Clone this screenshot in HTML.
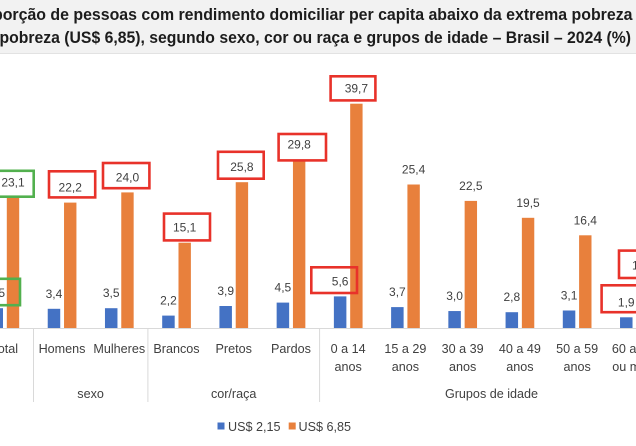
<!DOCTYPE html>
<html><head><meta charset="utf-8"><style>
html,body{margin:0;padding:0;background:#fff;}
svg{display:block;}
text{font-family:"Liberation Sans",Arial,sans-serif;}
</style></head><body>
<svg width="636" height="446" viewBox="0 0 636 446" xmlns="http://www.w3.org/2000/svg">
<rect x="0" y="0" width="636" height="446" fill="#fff"/>
<!-- title -->
<rect x="0" y="0" width="636" height="53" fill="#f2f2f2"/>
<line x1="0" y1="53.5" x2="636" y2="53.5" stroke="#e2e2e2" stroke-width="1"/>
<g font-weight="bold" font-size="16.5" fill="#1c1c1c" style="white-space:pre">
<text x="-33.5" y="20" textLength="666" lengthAdjust="spacingAndGlyphs">Proporção de pessoas com rendimento domiciliar per capita abaixo da extrema pobreza</text>
<text x="-0.5" y="43" textLength="631.5" lengthAdjust="spacingAndGlyphs">pobreza (US$ 6,85),  segundo sexo, cor ou raça e grupos de idade – Brasil – 2024 (%)</text>
</g>

<!-- axis -->
<line x1="0" y1="328.5" x2="636" y2="328.5" stroke="#d9d9d9" stroke-width="1"/>
<g stroke="#d9d9d9" stroke-width="1">
<line x1="33.5" y1="328" x2="33.5" y2="402"/>
<line x1="147.9" y1="328" x2="147.9" y2="402"/>
<line x1="319.6" y1="328" x2="319.6" y2="402"/>
</g>

<!-- blue bars -->
<g fill="#4472C4">
<rect x="-9.5" y="308.2" width="12.5" height="19.8"/>
<rect x="47.73" y="308.8" width="12.5" height="19.2"/>
<rect x="104.96" y="308.2" width="12.5" height="19.8"/>
<rect x="162.19" y="315.6" width="12.5" height="12.4"/>
<rect x="219.42" y="306.0" width="12.5" height="22.0"/>
<rect x="276.65" y="302.6" width="12.5" height="25.4"/>
<rect x="333.88" y="296.4" width="12.5" height="31.6"/>
<rect x="391.11" y="307.1" width="12.5" height="20.9"/>
<rect x="448.34" y="311.05" width="12.5" height="16.95"/>
<rect x="505.57" y="312.2" width="12.5" height="15.8"/>
<rect x="562.8" y="310.5" width="12.5" height="17.5"/>
<rect x="620.03" y="317.3" width="12.5" height="10.7"/>
</g>
<!-- orange bars -->
<g fill="#E8803C">
<rect x="6.8" y="197.5" width="12.4" height="130.5"/>
<rect x="64.03" y="202.6" width="12.4" height="125.4"/>
<rect x="121.26" y="192.4" width="12.4" height="135.6"/>
<rect x="178.49" y="242.7" width="12.4" height="85.3"/>
<rect x="235.72" y="182.2" width="12.4" height="145.8"/>
<rect x="292.95" y="159.6" width="12.4" height="168.4"/>
<rect x="350.18" y="103.7" width="12.4" height="224.3"/>
<rect x="407.41" y="184.5" width="12.4" height="143.5"/>
<rect x="464.64" y="200.9" width="12.4" height="127.1"/>
<rect x="521.87" y="217.8" width="12.4" height="110.2"/>
<rect x="579.1" y="235.3" width="12.4" height="92.7"/>
</g>

<!-- data labels -->
<g font-size="12" fill="#404040" text-anchor="middle">
<text x="-3.25" y="297.2">3,5</text>
<text x="53.98" y="297.8">3,4</text>
<text x="111.21" y="297.2">3,5</text>
<text x="168.44" y="304.6">2,2</text>
<text x="225.67" y="295">3,9</text>
<text x="282.9" y="291.6">4,5</text>
<text x="340.13" y="285.4">5,6</text>
<text x="397.36" y="296.1">3,7</text>
<text x="454.59" y="300">3,0</text>
<text x="511.82" y="301.2">2,8</text>
<text x="569.05" y="299.5">3,1</text>
<text x="626.28" y="306.3">1,9</text>

<text x="13" y="186.5">23,1</text>
<text x="70.23" y="191.6">22,2</text>
<text x="127.46" y="181.4">24,0</text>
<text x="184.69" y="231.7">15,1</text>
<text x="241.92" y="171.2">25,8</text>
<text x="299.15" y="148.6">29,8</text>
<text x="356.38" y="92.7">39,7</text>
<text x="413.61" y="173.5">25,4</text>
<text x="470.84" y="189.9">22,5</text>
<text x="528.07" y="206.8">19,5</text>
<text x="585.3" y="224.3">16,4</text>
</g>
<text x="632" y="269.5" font-size="12" fill="#404040">10,2</text>

<!-- annotation boxes -->
<g fill="none" stroke="#52B04E" stroke-width="2.6">
<rect x="-3" y="170.8" width="36.7" height="25.9"/>
<rect x="-3" y="278.8" width="23" height="26.4"/>
</g>
<g fill="none" stroke="#E8322A" stroke-width="2.6">
<rect x="49" y="171.3" width="46.2" height="26.1"/>
<rect x="103" y="163" width="46.4" height="25.2"/>
<rect x="164" y="213.6" width="46" height="26.8"/>
<rect x="218" y="151.8" width="45.7" height="26.9"/>
<rect x="278.6" y="134" width="47.4" height="26.4"/>
<rect x="311.3" y="267.3" width="45.7" height="25.7"/>
<rect x="330.6" y="76.3" width="44.8" height="24.1"/>
<rect x="619" y="250.6" width="30" height="27.4"/>
<rect x="601.6" y="285.3" width="50" height="26.9"/>
</g>

<!-- category labels -->
<g font-size="12.6" fill="#404040" text-anchor="middle">
<text x="4.8" y="353">Total</text>
<text x="62.03" y="353">Homens</text>
<text x="119.26" y="353">Mulheres</text>
<text x="176.49" y="353">Brancos</text>
<text x="233.72" y="353">Pretos</text>
<text x="290.95" y="353">Pardos</text>
<text x="348.18" y="353">0 a 14</text>
<text x="348.18" y="371">anos</text>
<text x="405.41" y="353">15 a 29</text>
<text x="405.41" y="371">anos</text>
<text x="462.64" y="353">30 a 39</text>
<text x="462.64" y="371">anos</text>
<text x="519.87" y="353">40 a 49</text>
<text x="519.87" y="371">anos</text>
<text x="577.1" y="353">50 a 59</text>
<text x="577.1" y="371">anos</text>
<text x="634.33" y="353">60 anos</text>
<text x="634.33" y="371">ou mais</text>
<text x="90.6" y="398">sexo</text>
<text x="233.7" y="398">cor/raça</text>
<text x="491.5" y="398">Grupos de idade</text>
</g>

<!-- legend -->
<rect x="217.5" y="422.5" width="7" height="7" fill="#4472C4"/>
<text x="228" y="431" font-size="12.6" fill="#404040">US$ 2,15</text>
<rect x="288.7" y="422.5" width="7" height="7" fill="#E8803C"/>
<text x="298.5" y="431" font-size="12.6" fill="#404040">US$ 6,85</text>
</svg>
</body></html>
